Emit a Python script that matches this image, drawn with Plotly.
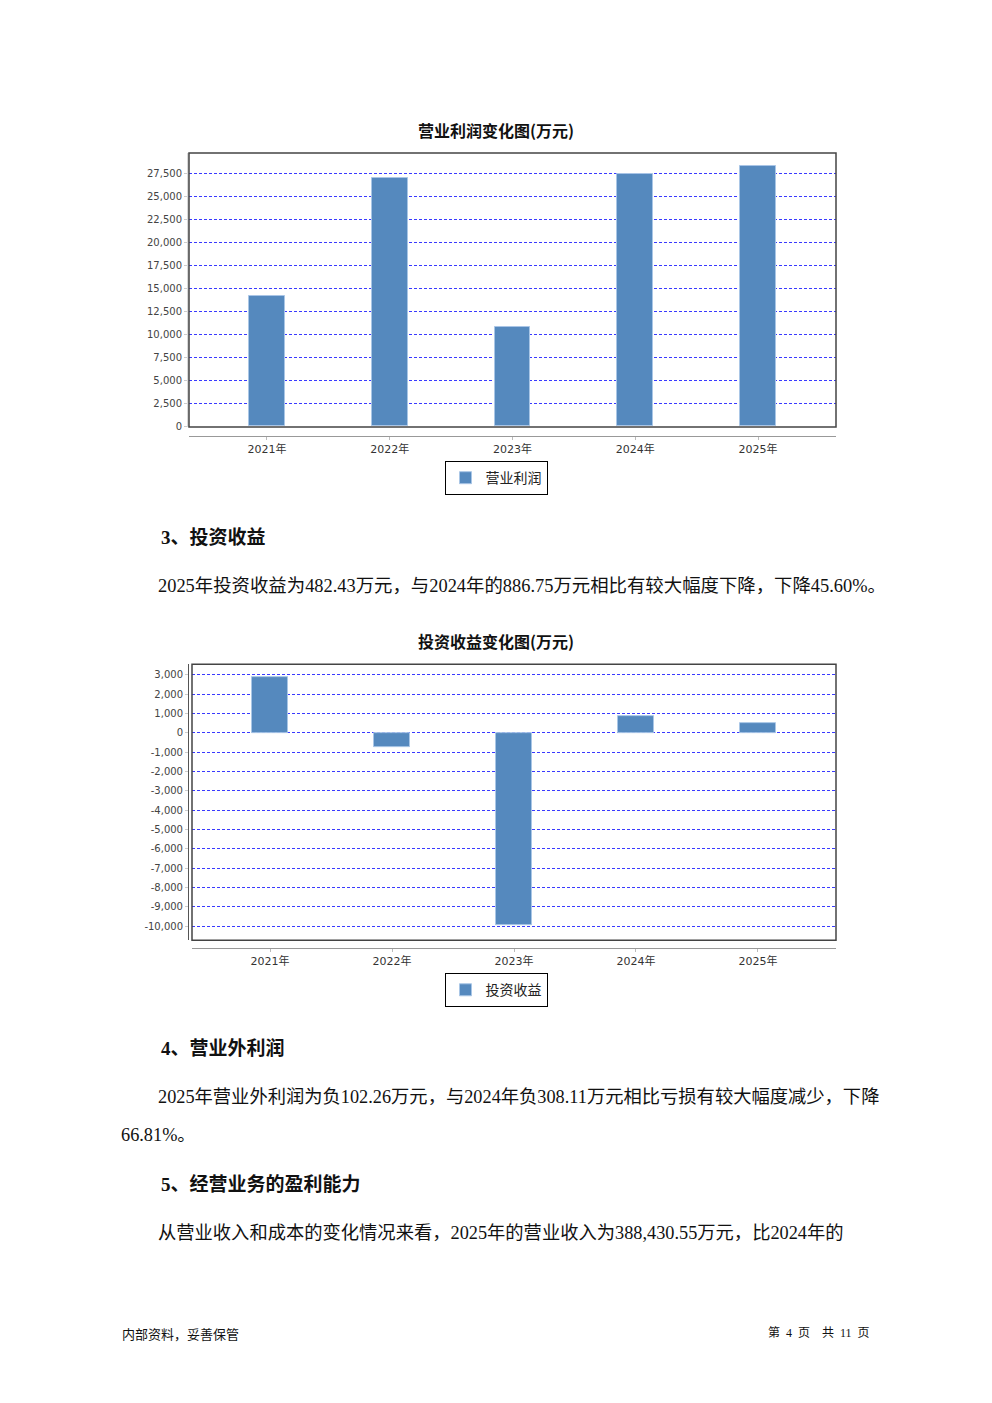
import plotly.graph_objects as go

OFF = 8  # default page margin of the html body
W, H = 992 - 2 * OFF, 1403 - 2 * OFF
K = 0.9962  # small vertical compensation observed in rendering

# ---------------- data ----------------
years = ["2021年", "2022年", "2023年", "2024年", "2025年"]
op_profit = [14130, 26920, 10790, 27390, 28260]          # 营业利润 (万元)
inv_income = [2880, -740, -9960, 886.75, 482.43]          # 投资收益 (万元)
ticks1 = [0, 2500, 5000, 7500, 10000, 12500, 15000, 17500, 20000, 22500, 25000, 27500]
ticks2 = [3000, 2000, 1000, 0, -1000, -2000, -3000, -4000, -5000, -6000, -7000, -8000, -9000, -10000]

BAR = "#5589BE"
GRID = "#3a3aff"
CJK = "Noto Sans CJK SC"
SERIF = "Liberation Serif, Noto Sans CJK SC"


def py(p):
    return 1 - (p - OFF) / (H * K)


def px(p):
    return (p - OFF) / W


fig = go.Figure()
fig.add_trace(go.Bar(x=years, y=op_profit, name="营业利润", marker=dict(color=BAR, line=dict(color="#a9c6e6", width=1)),
                     width=0.29, xaxis="x", yaxis="y", legend="legend"))
fig.add_trace(go.Bar(x=years, y=inv_income, name="投资收益", marker=dict(color=BAR, line=dict(color="#a9c6e6", width=1)),
                     width=0.295, xaxis="x2", yaxis="y2", legend="legend2"))

tickfont_y = dict(family="DejaVu Sans", size=10, color="#444")
tickfont_x = dict(family="DejaVu Sans, Noto Sans CJK SC", size=11, color="#333")

fig.update_layout(
    width=W, height=H, margin=dict(l=0, r=0, t=0, b=0),
    paper_bgcolor="white", plot_bgcolor="white",
    bargap=0,
    xaxis=dict(domain=[px(189), px(836)], anchor="free", position=py(436), range=[-0.635, 4.635],
               showline=True, linecolor="#999", linewidth=1, ticks="outside", ticklen=3, tickcolor="#bbb",
               tickfont=tickfont_x, showgrid=False, fixedrange=True),
    yaxis=dict(domain=[py(427), py(153)], range=[-100, 29680], tickvals=ticks1,
               ticktext=[f"{v:,}" for v in ticks1], tickfont=tickfont_y,
               ticks="outside", ticklen=3, tickcolor="#ccc",
               showline=True, linecolor="#d8d8d8", linewidth=2,
               showgrid=True, gridcolor=GRID, griddash="3px,2px", gridwidth=1, zeroline=False),
    xaxis2=dict(domain=[px(192), px(836)], anchor="free", position=py(948), range=[-0.64, 4.64],
                showline=True, linecolor="#999", linewidth=1, ticks="outside", ticklen=3, tickcolor="#bbb",
                tickfont=tickfont_x, showgrid=False),
    yaxis2=dict(domain=[py(940), py(664)], range=[-10724, 3554], tickvals=ticks2,
                ticktext=[f"{v:,}" for v in ticks2], tickfont=tickfont_y,
                ticks="outside", ticklen=3, tickcolor="#ccc",
                showline=True, linecolor="#555", linewidth=1,
                showgrid=True, gridcolor=GRID, griddash="3px,2px", gridwidth=1, zeroline=False),
    legend=dict(x=px(496), xanchor="center", y=py(461), yanchor="top", orientation="h",
                bordercolor="black", borderwidth=1, bgcolor="white",
                font=dict(family=CJK, size=14, color="#222"), itemwidth=30),
    legend2=dict(x=px(496), xanchor="center", y=py(973), yanchor="top", orientation="h",
                 bordercolor="black", borderwidth=1, bgcolor="white",
                 font=dict(family=CJK, size=14, color="#222"), itemwidth=30),
    showlegend=True,
)

# plot frames
fig.add_shape(type="rect", xref="x domain", yref="y domain", x0=0, x1=1, y0=0, y1=1,
              line=dict(color="#444", width=1.5), layer="above")
fig.add_shape(type="rect", xref="x2 domain", yref="y2 domain", x0=0, x1=1, y0=0, y1=1,
              line=dict(color="#444", width=1.5), layer="above")

ann = []


def text(x, y, s, size, family=SERIF, bold=False, color="#111", xanchor="left"):
    if bold:
        s = f"<b>{s}</b>"
    ann.append(dict(x=px(x), y=py(y), xref="paper", yref="paper", text=s, showarrow=False,
                    xanchor=xanchor, yanchor="middle", font=dict(family=family, size=size, color=color)))


text(496, 130, "营业利润变化图(万元)", 16, family=CJK, bold=True, xanchor="center")
text(496, 641, "投资收益变化图(万元)", 16, family=CJK, bold=True, xanchor="center")

text(159, 537, "3、投资收益", 19, bold=True)
text(156, 586, "2025年投资收益为482.43万元，与2024年的886.75万元相比有较大幅度下降，下降45.60%。", 18.4)
text(159, 1048, "4、营业外利润", 19, bold=True)
text(156, 1097, "2025年营业外利润为负102.26万元，与2024年负308.11万元相比亏损有较大幅度减少，下降", 18.3)
text(119, 1135, "66.81%。", 18.3)
text(159, 1184, "5、经营业务的盈利能力", 19, bold=True)
text(156, 1233, "从营业收入和成本的变化情况来看，2025年的营业收入为388,430.55万元，比2024年的", 18.3)

text(120, 1333, "内部资料，妥善保管", 13, family=CJK)
text(872, 1333, "第&nbsp;&nbsp;4&nbsp;&nbsp;页&nbsp;&nbsp;&nbsp;&nbsp;共&nbsp;&nbsp;11&nbsp;&nbsp;页", 12,
     family=SERIF, xanchor="right")

fig.update_layout(annotations=ann)

fig.write_html("out.html")
